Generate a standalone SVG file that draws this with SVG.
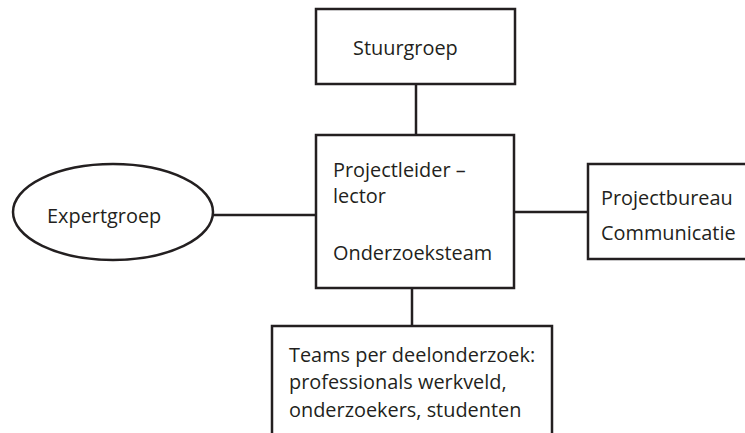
<svg xmlns="http://www.w3.org/2000/svg" width="745" height="433" viewBox="0 0 745 433">
<style>
.box{fill:#fff;stroke:#231f20;stroke-width:2.5}
.ln{stroke:#231f20;stroke-width:2.5;fill:none}
.t{font-family:"Open Sans","Liberation Sans",Arial,sans-serif;font-size:19.9px;fill:#231f20}
</style>
<rect width="745" height="433" fill="#fff"/>
<g id="connectors">
<line class="ln" x1="416" y1="84" x2="416" y2="135"/>
<line class="ln" x1="213" y1="215" x2="316" y2="215"/>
<line class="ln" x1="514" y1="212" x2="588" y2="212"/>
<line class="ln" x1="412" y1="288" x2="412" y2="326"/>
</g>
<g id="stuurgroep">
<rect class="box" x="316" y="9" width="199" height="75"/>
<text class="t" x="353" y="55">Stuurgroep</text>
</g>
<g id="projectleider">
<rect class="box" x="316" y="135" width="198" height="153"/>
<text class="t" x="333" y="177">Projectleider –</text>
<text class="t" x="333" y="203">lector</text>
<text class="t" x="333" y="260">Onderzoeksteam</text>
</g>
<g id="expertgroep">
<ellipse class="box" cx="113" cy="212" rx="100" ry="48"/>
<text class="t" x="47" y="223">Expertgroep</text>
</g>
<g id="projectbureau">
<rect class="box" x="588" y="164" width="160" height="95"/>
<text class="t" x="601" y="205">Projectbureau</text>
<text class="t" x="601" y="240">Communicatie</text>
</g>
<g id="teams">
<rect class="box" x="272" y="326" width="280" height="120"/>
<text class="t" x="289" y="362">Teams per deelonderzoek:</text>
<text class="t" x="289" y="389">professionals werkveld,</text>
<text class="t" x="289" y="417">onderzoekers, studenten</text>
</g>
</svg>
